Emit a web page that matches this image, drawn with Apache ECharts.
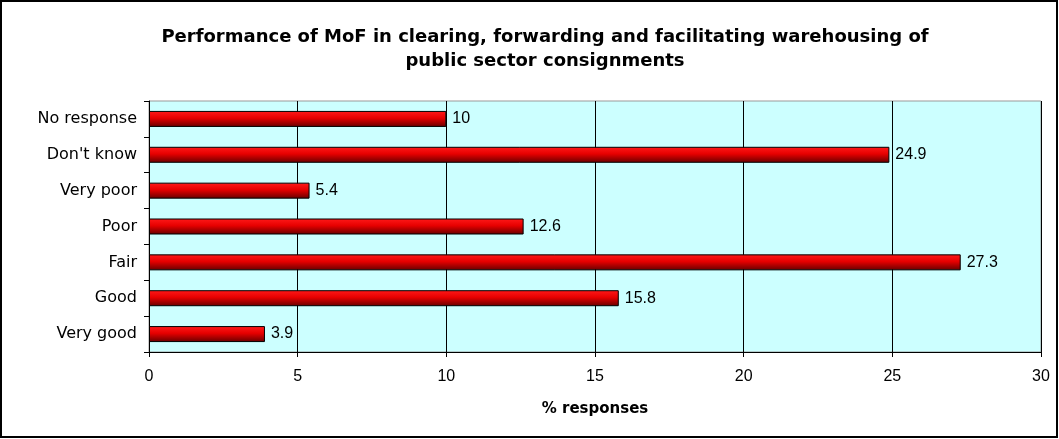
<!DOCTYPE html>
<html>
<head>
<meta charset="utf-8">
<script src="https://cdn.jsdelivr.net/npm/echarts@6/dist/echarts.min.js"></script>
<style>
  html, body { margin: 0; padding: 0; background: #fff; }
  #chart { width: 1059px; height: 439px; }
</style>
</head>
<body>
<div id="chart"></div>
<script>
// categories listed bottom to top, as the value axis draws them
const categories = ['Very good', 'Good', 'Fair', 'Poor', 'Very poor', "Don't know", 'No response']
const responses = [3.9, 15.8, 27.3, 12.6, 5.4, 24.9, 10]
const xTicks = [0, 5, 10, 15, 20, 25, 30]

const chart = echarts.init(document.getElementById('chart'))
const font = "'Liberation Sans', Arial, sans-serif"
const wideFont = "'DejaVu Sans', 'Liberation Sans', sans-serif"

chart.setOption({
  animation: false,
  textStyle: { fontFamily: font },
  title: {
    text: 'Performance of MoF in clearing, forwarding and facilitating warehousing of\npublic sector consignments',
    left: 540,
    textAlign: 'center',
    top: 20,
    textStyle: { fontSize: 18, fontWeight: 'bold', color: '#000', lineHeight: 24, fontFamily: wideFont }
  },
  graphic: [
    {
      type: 'rect',
      shape: { x: 1, y: 1, width: 1056, height: 436 },
      style: { fill: 'none', stroke: '#000', lineWidth: 2 },
      silent: true
    }
  ],
  grid: {
    left: 149,
    right: 18,
    top: 101,
    bottom: 87,
    show: true,
    backgroundColor: '#ccffff',
    borderColor: '#999',
    borderWidth: 1
  },
  xAxis: {
    type: 'value',
    min: xTicks[0],
    max: xTicks[xTicks.length - 1],
    interval: 5,
    name: '% responses',
    nameLocation: 'middle',
    nameGap: 50,
    nameTextStyle: { fontSize: 15, fontWeight: 'bold', color: '#000', fontFamily: wideFont },
    axisLine: { show: true, lineStyle: { color: '#000', width: 1 } },
    axisTick: { show: true, length: 5, lineStyle: { color: '#000' } },
    axisLabel: { fontSize: 16, color: '#000', margin: 17, fontFamily: font },
    splitLine: { show: true, lineStyle: { color: '#000', width: 1 } }
  },
  yAxis: {
    type: 'category',
    data: categories,
    axisLine: { show: true, lineStyle: { color: '#000', width: 1 } },
    axisTick: { show: true, length: 5, lineStyle: { color: '#000' } },
    axisLabel: { fontSize: 16, color: '#000', margin: 12, fontFamily: wideFont },
    splitLine: { show: false }
  },
  series: [
    {
      type: 'bar',
      data: responses,
      barWidth: 16,
      itemStyle: {
        color: new echarts.graphic.LinearGradient(0, 0, 0, 1, [
          { offset: 0, color: '#ff1a1a' },
          { offset: 0.45, color: '#e60000' },
          { offset: 1, color: '#660000' }
        ]),
        borderColor: '#000',
        borderWidth: 1
      },
      label: {
        show: true,
        position: 'right',
        distance: 6,
        fontSize: 16,
        color: '#000',
        fontFamily: font
      }
    }
  ]
})
</script>
</body>
</html>
